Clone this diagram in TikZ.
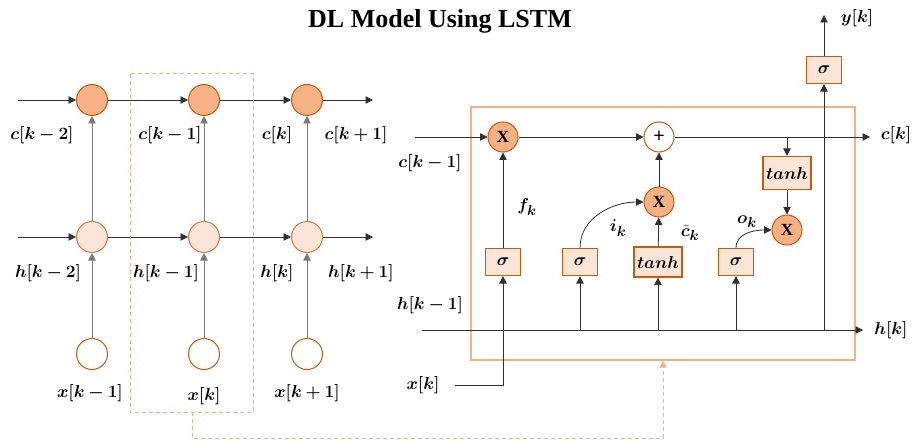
\documentclass[tikz,border=0pt]{standalone}
\usepackage{fontspec}
\usepackage{amsmath,bm}
\usetikzlibrary{arrows.meta}
\newfontfamily\titlefont{Liberation Serif}
\definecolor{darkfill}{HTML}{F4B183}
\definecolor{lightfill}{HTML}{FBE5D6}
\definecolor{bord}{HTML}{C55A11}
\definecolor{boxline}{HTML}{F4B183}
\definecolor{vline}{HTML}{7A7A7A}
\definecolor{hline}{HTML}{303030}
\tikzset{
  every node/.style={inner sep=0pt},
  circdark/.style={circle, draw=bord, line width=1pt, fill=darkfill, minimum size=31pt},
  circlight/.style={circle, draw=bord!80, line width=1pt, fill=lightfill, minimum size=31pt},
  circwhite/.style={circle, draw=bord, line width=1pt, fill=white, minimum size=31pt},
  opdark/.style={circle, draw=bord, line width=1pt, fill=darkfill, minimum size=30pt, font=\titlefont\bfseries\fontsize{17}{17}\selectfont},
  opwhite/.style={circle, draw=bord, line width=1pt, fill=white, minimum size=30pt, font=\titlefont\bfseries\fontsize{20}{20}\selectfont},
  gate/.style={rectangle, draw=bord, line width=1.2pt, fill=lightfill, minimum width=35pt, minimum height=27pt, inner xsep=3pt, font=\fontsize{17}{18}\selectfont},
  lbl/.style={font=\fontsize{16.5}{18}\selectfont},
  sublbl/.style={font=\fontsize{19}{20}\selectfont},
  arr/.style={-{Triangle[length=7.5pt,width=7.5pt]}, line width=0.8pt},
  harr/.style={arr, draw=hline},
  varr/.style={arr, draw=vline},
  dsh/.style={draw=boxline, dashed, line width=1pt, dash pattern=on 4pt off 3pt},
}
\begin{document}
\begin{tikzpicture}[x=1pt,y=-1pt]
\useasboundingbox (0,0) rectangle (921,441);
% title
\node[font=\titlefont\bfseries\fontsize{26}{28}\selectfont] (title) at (440,21) {DL Model Using LSTM};

% ---------- left: unrolled chain ----------
\node[circdark] (c1) at (92,100) {};
\node[circdark] (c2) at (204,100) {};
\node[circdark] (c3) at (307,100) {};
\node[circlight] (h1) at (92,237) {};
\node[circlight] (h2) at (204,237) {};
\node[circlight] (h3) at (307,237) {};
\node[circwhite] (x1) at (92,354) {};
\node[circwhite] (x2) at (204,354) {};
\node[circwhite] (x3) at (307,354) {};
\coordinate (cin) at (18,100);
\coordinate (cout) at (373,100);
\coordinate (hin) at (18,237);
\coordinate (hout) at (373,237);
\draw[harr] (cin) -- (c1);
\draw[harr] (c1) -- (c2);
\draw[harr] (c2) -- (c3);
\draw[harr] (c3) -- (cout);
\draw[harr] (hin) -- (h1);
\draw[harr] (h1) -- (h2);
\draw[harr] (h2) -- (h3);
\draw[harr] (h3) -- (hout);
\foreach \i in {1,2,3}{
  \draw[varr] (x\i) -- (h\i);
  \draw[varr] (h\i) -- (c\i);
}
\node[lbl] (lc1) at (42,135) {$\bm{c[k-2]}$};
\node[lbl] (lc2) at (170,135) {$\bm{c[k-1]}$};
\node[lbl] (lc3) at (277,135) {$\bm{c[k]}$};
\node[lbl] (lc4) at (356,135) {$\bm{c[k+1]}$};
\node[lbl] (lh1) at (48,273) {$\bm{h[k-2]}$};
\node[lbl] (lh2) at (166,273) {$\bm{h[k-1]}$};
\node[lbl] (lh3) at (277,273) {$\bm{h[k]}$};
\node[lbl] (lh4) at (361,273) {$\bm{h[k+1]}$};
\node[lbl] (lx1) at (90,393) {$\bm{x[k-1]}$};
\node[lbl] (lx2) at (204,396) {$\bm{x[k]}$};
\node[lbl] (lx3) at (307,393) {$\bm{x[k+1]}$};
% dashed highlight
\draw[dsh] (130,74) rectangle (253,412);
\node (dhl) at (192,412) {};

% ---------- right: LSTM cell ----------
\node[draw=boxline, line width=1.3pt, minimum width=384pt, minimum height=253pt] (lstm) at (663,233.5) {};
\node[opdark] (fx) at (503,137) {X};
\node[opwhite] (plus) at (659,137) {+};
\node[opdark] (ix) at (659,202) {X};
\node[opdark] (ox) at (787,230) {X};
\node[gate, minimum width=48pt, minimum height=33pt] (tanhtop) at (787,173) {$\bm{tanh}$};
\node[gate] (sout) at (824,70) {$\bm{\sigma}$};
\node[gate] (sf) at (503,262) {$\bm{\sigma}$};
\node[gate] (si) at (580,262) {$\bm{\sigma}$};
\node[gate, minimum width=43pt, minimum height=30pt] (tanhc) at (658,262) {$\bm{tanh}$};
\node[gate] (so) at (736,262) {$\bm{\sigma}$};

\coordinate (cstart) at (415,137);
\coordinate (cend) at (870,137);
\coordinate (ctap) at (787,137);
\coordinate (hstart) at (422,330);
\coordinate (hend) at (863,330);
\coordinate (xstart) at (455,385);
\coordinate (hsi) at (580,330);
\coordinate (hst) at (658,330);
\coordinate (hso) at (736,330);
\coordinate (hy) at (824,330);
\coordinate (ytop) at (824,15);

\draw[harr] (cstart) -- (fx);
\draw[harr] (fx) -- (plus);
\draw[harr] (plus) -- (cend);
\draw[harr] (ctap) -- (tanhtop);
\draw[harr] (tanhtop) -- (ox);
\draw[harr] (ix) -- (plus);
\draw[harr] (hstart) -- (hend);
\draw[harr] (xstart) -| (sf.south);
\draw[harr] (sf) -- (fx);
\draw[harr] (hsi) -- (si.south);
\draw[harr] (hst) -- (tanhc.south);
\draw[harr] (hso) -- (so.south);
\draw[harr] (tanhc) -- (ix);
\draw[harr] (si.north) to[out=90, in=180] (ix.west);
\draw[harr] (so.north) to[out=90, in=180] (ox.west);
\draw[harr] (hy) -- (sout.south);
\draw[harr] (sout.north) -- (ytop);

\node[lbl] (lcin) at (430,163) {$\bm{c[k-1]}$};
\node[lbl] (lcout) at (896,135) {$\bm{c[k]}$};
\node[lbl] (lhin) at (430,305) {$\bm{h[k-1]}$};
\node[lbl] (lhout) at (891,330) {$\bm{h[k]}$};
\node[lbl] (lxin) at (423,385) {$\bm{x[k]}$};
\node[sublbl] (lf) at (527,207) {$\bm{f_k}$};
\node[sublbl] (li) at (618,228) {$\bm{i_k}$};
\node[sublbl] (lct) at (690,233) {$\bm{\tilde{c}_k}$};
\node[sublbl] (lo) at (747,222) {$\bm{o_k}$};
\node[lbl] (ly) at (857,18) {$\bm{y[k]}$};

% dashed link from highlighted step to cell
\coordinate (dlow) at (192,438);
\draw[dsh, -{Triangle[length=7pt,width=7pt]}] (dhl.center) -- (dlow) -| (lstm.south);
\end{tikzpicture}
\end{document}
